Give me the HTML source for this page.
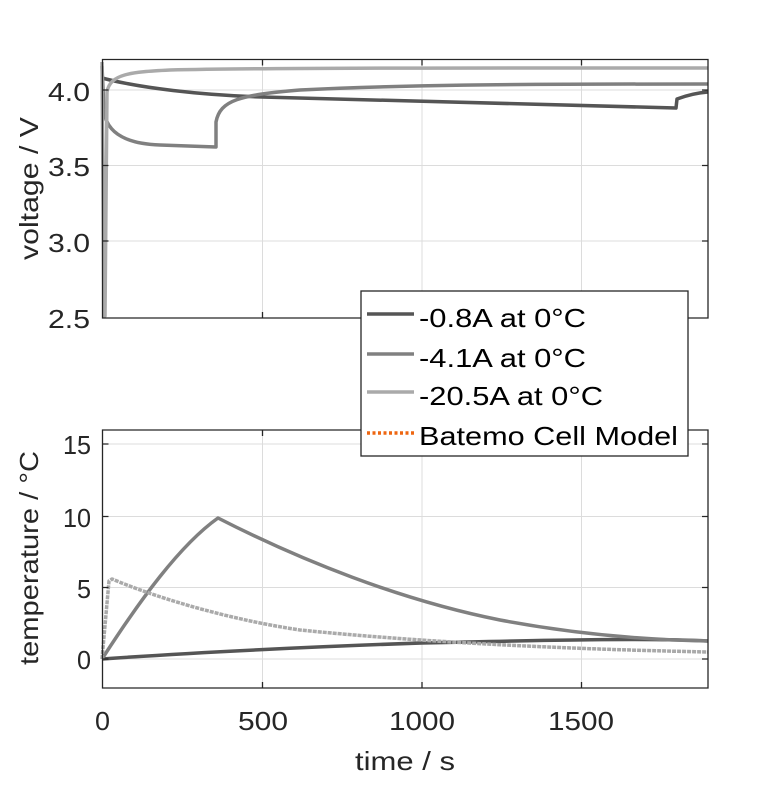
<!DOCTYPE html>
<html><head><meta charset="utf-8"><style>
html,body{margin:0;padding:0;background:#fff;}
text{font-family:"Liberation Sans",sans-serif;}
</style></head><body>
<svg width="781" height="781" viewBox="0 0 781 781" xmlns="http://www.w3.org/2000/svg">
<rect width="781" height="781" fill="#fff"/>
<g stroke="#dcdcdc" stroke-width="1">
<line x1="262.5" y1="60" x2="262.5" y2="318"/><line x1="422" y1="60" x2="422" y2="318"/><line x1="581.5" y1="60" x2="581.5" y2="318"/>
<line x1="102" y1="90" x2="708" y2="90"/><line x1="102" y1="165.5" x2="708" y2="165.5"/><line x1="102" y1="241" x2="708" y2="241"/>
<line x1="262.5" y1="430" x2="262.5" y2="688"/><line x1="422" y1="430" x2="422" y2="688"/><line x1="581.5" y1="430" x2="581.5" y2="688"/>
<line x1="102" y1="444" x2="708" y2="444"/><line x1="102" y1="516.5" x2="708" y2="516.5"/><line x1="102" y1="587.5" x2="708" y2="587.5"/><line x1="102" y1="659" x2="708" y2="659"/>
</g>
<g fill="none" stroke-width="3.5" stroke-linejoin="round">
<path d="M102,78 C140,88 200,95 262,97 L676,108 L677,99 C685,96 695,93 708,92" stroke="#555"/>
<path d="M102,66 L104,110 C106,135 130,144 160,145 L216,147 L216,122 C220,100 240,95 300,90 C400,85 500,84 708,84" stroke="#808080"/>
<path d="M102,62 L104,316 L105,316 L107,92 C110,74 130,72 170,70 C250,68 400,68 708,68" stroke="#aaa"/>
<path d="M102,659 C200,652 330,646 422,643 C550,640 650,638 708,641" stroke="#555"/>
<path d="M102,659 C140,600 180,545 218,518 C300,560 400,600 500,620 C580,635 650,640 708,641" stroke="#808080"/>
<path d="M102,659 L109,581 L112,579 C150,595 220,618 300,630 C420,642 560,649 708,652" stroke="#aaa" stroke-dasharray="4 1"/>
</g>
<g fill="none" stroke="#262626" stroke-width="1.3">
<path d="M102.5,318 V59.5 H708 V318 Z"/>
<path d="M102.5,688 V430 H708 V688 Z"/>
<path d="M262.5,59.5v6M422,59.5v6M581.5,59.5v6M262.5,318v-6M422,318v-6M581.5,318v-6"/>
<path d="M262.5,430v6M422,430v6M581.5,430v6M262.5,688v-6M422,688v-6M581.5,688v-6"/>
<path d="M102.5,90h6M102.5,165.5h6M102.5,241h6M708,90h-6M708,165.5h-6M708,241h-6"/>
<path d="M102.5,444h6M102.5,516.5h6M102.5,587.5h6M102.5,659h6M708,444h-6M708,516.5h-6M708,587.5h-6M708,659h-6"/>
</g>
<g font-size="26" fill="#262626">
<text x="48" y="101" textLength="42" lengthAdjust="spacingAndGlyphs">4.0</text>
<text x="48" y="176" textLength="42" lengthAdjust="spacingAndGlyphs">3.5</text>
<text x="48" y="252" textLength="42" lengthAdjust="spacingAndGlyphs">3.0</text>
<text x="48" y="328" textLength="42" lengthAdjust="spacingAndGlyphs">2.5</text>
<text x="63" y="454" textLength="28" lengthAdjust="spacingAndGlyphs">15</text>
<text x="63" y="527" textLength="28" lengthAdjust="spacingAndGlyphs">10</text>
<text x="77" y="598" textLength="14" lengthAdjust="spacingAndGlyphs">5</text>
<text x="77" y="669" textLength="14" lengthAdjust="spacingAndGlyphs">0</text>
<text x="95" y="730" textLength="15" lengthAdjust="spacingAndGlyphs">0</text>
<text x="238" y="730" textLength="50" lengthAdjust="spacingAndGlyphs">500</text>
<text x="389" y="730" textLength="66" lengthAdjust="spacingAndGlyphs">1000</text>
<text x="548" y="730" textLength="66" lengthAdjust="spacingAndGlyphs">1500</text>
<text x="355" y="770" textLength="100" lengthAdjust="spacingAndGlyphs">time / s</text>
<text transform="translate(38,260) rotate(-90)" textLength="143" lengthAdjust="spacingAndGlyphs">voltage / V</text>
<text transform="translate(38,665) rotate(-90)" textLength="214" lengthAdjust="spacingAndGlyphs">temperature / °C</text>
</g>
<rect x="361" y="291" width="327" height="165" fill="#fff" stroke="#262626" stroke-width="1.3"/>
<g stroke-width="3.5">
<line x1="367" y1="314" x2="414" y2="314" stroke="#555"/>
<line x1="367" y1="354" x2="414" y2="354" stroke="#808080"/>
<line x1="367" y1="392" x2="414" y2="392" stroke="#aaa"/>
<line x1="367" y1="433" x2="414" y2="433" stroke="#ee6611" stroke-dasharray="3 2.5"/>
</g>
<g font-size="26" fill="#000">
<text x="419" y="327" textLength="167" lengthAdjust="spacingAndGlyphs">-0.8A at 0°C</text>
<text x="419" y="367" textLength="167" lengthAdjust="spacingAndGlyphs">-4.1A at 0°C</text>
<text x="419" y="405" textLength="184" lengthAdjust="spacingAndGlyphs">-20.5A at 0°C</text>
<text x="419" y="445" textLength="259" lengthAdjust="spacingAndGlyphs">Batemo Cell Model</text>
</g>
</svg>
</body></html>
